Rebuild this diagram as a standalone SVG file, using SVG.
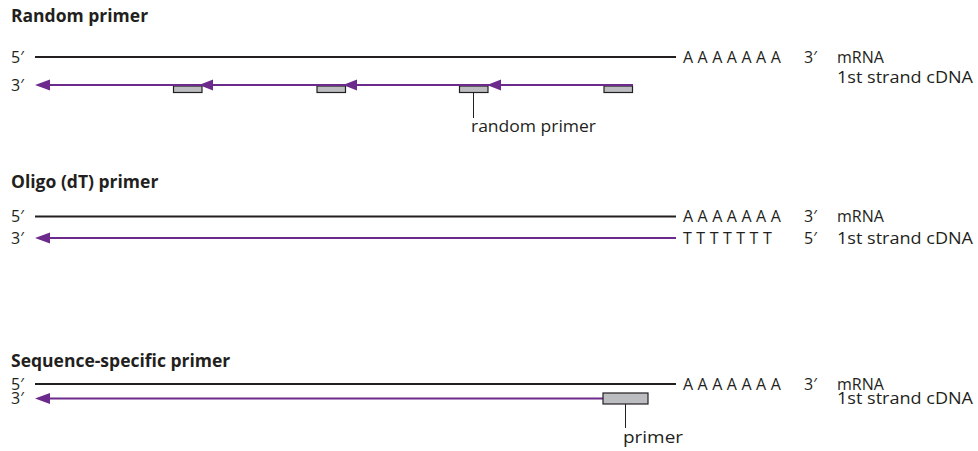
<svg xmlns="http://www.w3.org/2000/svg" width="978" height="451" viewBox="0 0 978 451">
<defs>
<style>
text{font-family:"Open Sans","Liberation Sans",sans-serif;font-size:16px;fill:#231f20}
.t{font-weight:bold;font-size:17.5px}
.bl{stroke:#231f20;stroke-width:2;fill:none}
.pl{stroke:#6c2a8c;stroke-width:2;fill:none}
.ah{fill:#6c2a8c}
.bx{fill:#bcbdc0;stroke:#231f20;stroke-width:1.2}
.ld{stroke:#231f20;stroke-width:1;fill:none}
.ls{letter-spacing:4.5px}
</style>
</defs>
<rect width="978" height="451" fill="#fff"/>

<g id="random-primer">
<text class="t" x="11" y="22">Random primer</text>
<text x="11" y="62.5">5′</text>
<text x="11" y="91">3′</text>
<g id="mrna1"><line class="bl" x1="35" y1="57" x2="676" y2="57"/></g>
<g id="boxes1">
<rect class="bx" x="173.5" y="86" width="28.5" height="6.5"/>
<rect class="bx" x="317" y="86" width="28.5" height="6.5"/>
<rect class="bx" x="459.5" y="86" width="28.5" height="6.5"/>
<rect class="bx" x="604" y="86" width="28.5" height="6.5"/>
</g>
<g id="cdna1">
<line class="pl" x1="40" y1="85" x2="633" y2="85"/>
<polygon class="ah" points="35,85 50,79.5 50,90.5"/>
<polygon class="ah" points="199,85 213,79.5 213,90.5"/>
<polygon class="ah" points="343,85 357,79.5 357,90.5"/>
<polygon class="ah" points="487,85 501,79.5 501,90.5"/>
</g>
<line class="ld" x1="473.5" y1="92.5" x2="473.5" y2="118"/>
<text x="471" y="132" textLength="125" lengthAdjust="spacingAndGlyphs">random primer</text>
<text class="ls" x="683" y="62.5">AAAAAAA</text>
<text x="804" y="62.5">3′</text>
<text x="837" y="62.5">mRNA</text>
<text x="837" y="83" textLength="136" lengthAdjust="spacingAndGlyphs">1st strand cDNA</text>
</g>

<g id="oligo-dt-primer">
<text class="t" x="11" y="188">Oligo (dT) primer</text>
<text x="11" y="222">5′</text>
<text x="11" y="243.5">3′</text>
<g id="mrna2"><line class="bl" x1="35" y1="216.5" x2="676" y2="216.5"/></g>
<g id="cdna2">
<line class="pl" x1="40" y1="238" x2="676" y2="238"/>
<polygon class="ah" points="35,238 50,232.5 50,243.5"/>
</g>
<text class="ls" x="683" y="222">AAAAAAA</text>
<text x="804" y="222">3′</text>
<text x="837" y="222">mRNA</text>
<text class="ls" x="683" y="243.5">TTTTTTT</text>
<text x="804" y="243.5">5′</text>
<text x="837" y="243.5" textLength="136" lengthAdjust="spacingAndGlyphs">1st strand cDNA</text>
</g>

<g id="sequence-specific-primer">
<text class="t" x="11" y="367">Sequence-specific primer</text>
<text x="11" y="389.5">5′</text>
<text x="11" y="404">3′</text>
<g id="mrna3"><line class="bl" x1="35" y1="384" x2="676" y2="384"/></g>
<g id="cdna3">
<line class="pl" x1="40" y1="398.5" x2="603" y2="398.5"/>
<polygon class="ah" points="35,398.5 50,393 50,404"/>
</g>
<g id="primer3"><rect class="bx" x="603" y="393" width="45" height="11"/></g>
<line class="ld" x1="625.5" y1="404" x2="625.5" y2="428"/>
<text x="623" y="443" textLength="60" lengthAdjust="spacingAndGlyphs">primer</text>
<text class="ls" x="683" y="389.5">AAAAAAA</text>
<text x="804" y="389.5">3′</text>
<text x="837" y="389.5">mRNA</text>
<text x="837" y="404" textLength="136" lengthAdjust="spacingAndGlyphs">1st strand cDNA</text>
</g>
</svg>
